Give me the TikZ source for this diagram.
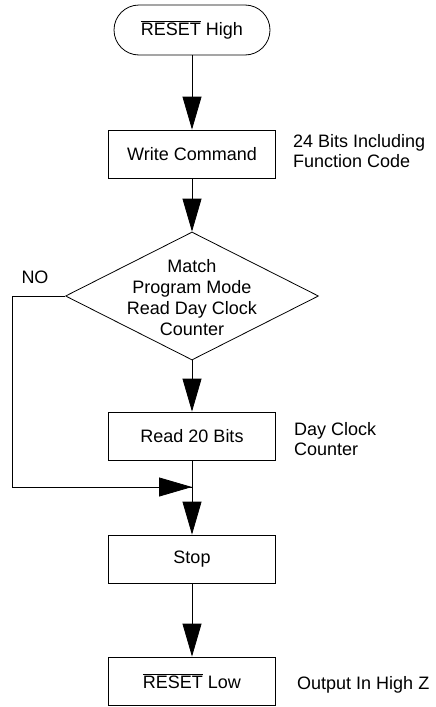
\documentclass[tikz,border=0pt]{standalone}
\usepackage{fontspec}
\setmainfont{Liberation Sans}
\usetikzlibrary{arrows.meta,shapes.geometric}
\newcommand\ovl[1]{$\overline{\hbox{#1}}$}
\begin{document}
\begin{tikzpicture}[x=1pt,y=-1pt,
  every node/.style={font=\fontsize{18}{20}\selectfont},
  box/.style={draw,line width=0.8pt,minimum width=167pt,minimum height=48pt,inner sep=0pt},
  term/.style={draw,line width=0.8pt,rounded corners=25pt,minimum width=156pt,minimum height=50pt,inner sep=0pt},
  dia/.style={draw,diamond,line width=0.8pt,minimum width=253pt,minimum height=128pt,inner sep=0pt},
  note/.style={anchor=west,align=left,inner sep=0pt},
  arr/.style={line width=0.8pt,-{Triangle[length=33pt,width=19pt]}},
  ln/.style={line width=0.8pt}]
\useasboundingbox (0,0) rectangle (436,707);
\node[term] (t) at (192,30) {\ovl{RESET} High};
\node[box] (w) at (192,154) {Write Command};
\node[dia] (d) at (192,296) {};
\node[align=center,font=\fontsize{18}{21}\selectfont,inner sep=0pt] (dt) at (192,298) {Match\\Program Mode\\Read Day Clock\\Counter};
\node[box] (r) at (192,436) {Read 20 Bits};
\node[box] (s) at (192,559) {Stop};
\node[box] (l) at (192,681) {\ovl{RESET} Low};
\node[note] (n1) at (293,151) {24 Bits Including\\Function Code};
\node[note] (n2) at (294,439) {Day Clock\\Counter};
\node[note] (n3) at (297,685) {Output In High Z};
\node[inner sep=0pt] (no) at (35,277) {NO};
\coordinate (c1) at (12,296);
\coordinate (c2) at (12,487);
\coordinate (j) at (192,487);
\draw[arr] (t) -- (w);
\draw[arr] (w) -- (d);
\draw[arr] (d) -- (r);
\draw[arr] (r) -- (s);
\draw[arr] (s) -- (l);
\draw[ln] (d.west) -- (c1) -- (c2) -- (j);
\draw[arr] (c2) -- (j);
\end{tikzpicture}
\end{document}
